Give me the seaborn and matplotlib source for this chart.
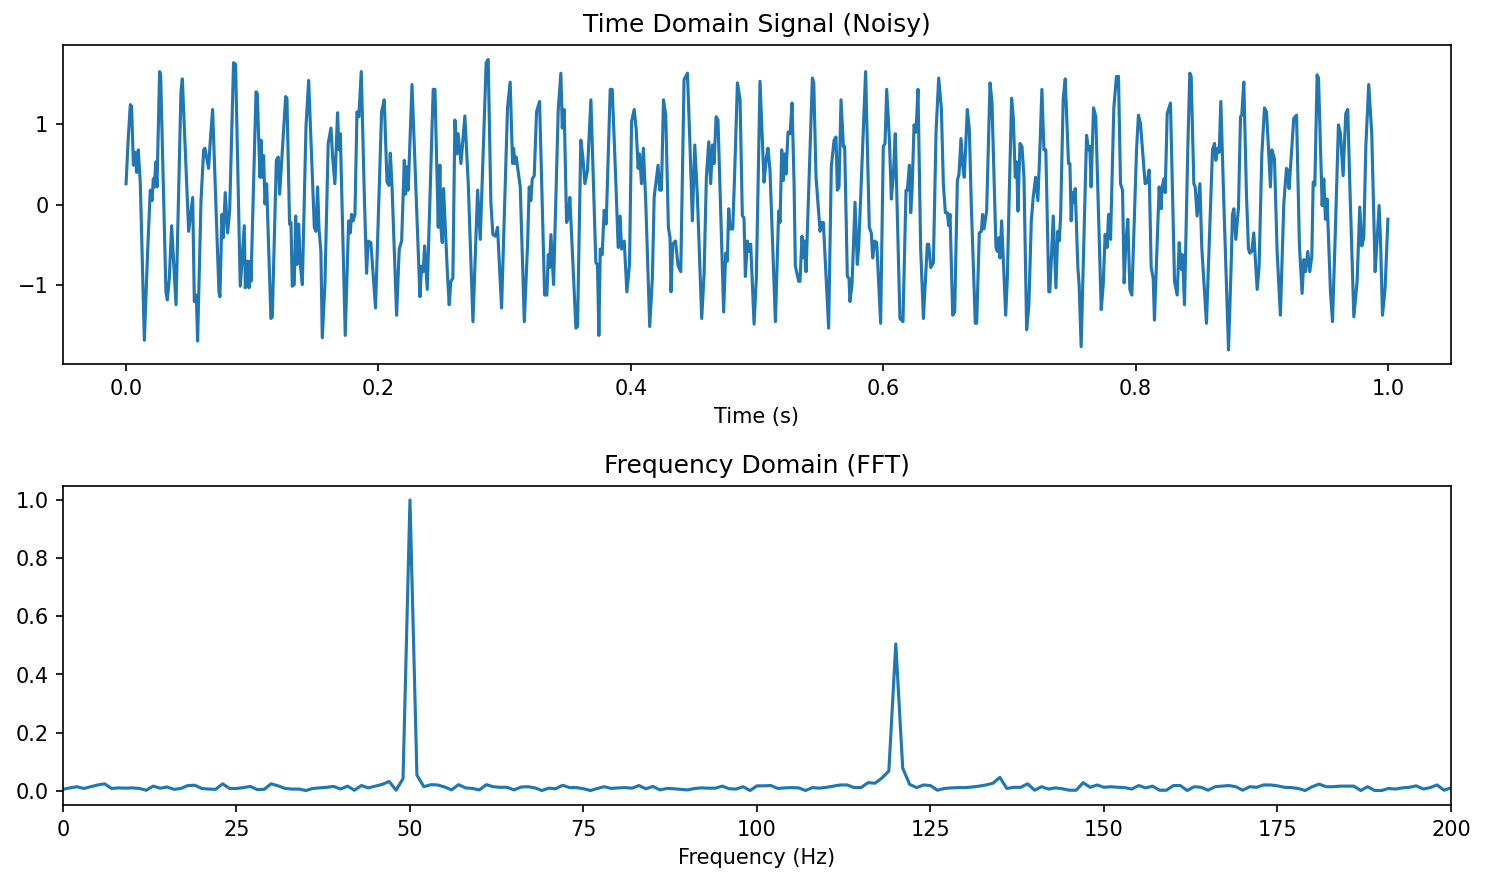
import numpy as np
import matplotlib
matplotlib.use("Agg")
import matplotlib.pyplot as plt
import pandas as pd
import seaborn as sns

# time domain signal, vertices (t in s, amplitude)
time_s = [
    0.0000, 0.0018, 0.0034, 0.0044, 0.0058, 0.0071, 0.0084, 0.0097, 0.0113, 0.0145,
    0.0171, 0.0192, 0.0206, 0.0216, 0.0224, 0.0235, 0.0245, 0.0266, 0.0274, 0.0316,
    0.0327, 0.0343, 0.0361, 0.0396, 0.0435, 0.0446, 0.0496, 0.0528, 0.0541, 0.0557,
    0.0567, 0.0594, 0.0615, 0.0625, 0.0654, 0.0668, 0.0686, 0.0736, 0.0744, 0.0760,
    0.0770, 0.0786, 0.0805, 0.0821, 0.0852, 0.0868, 0.0905, 0.0937, 0.0945, 0.0963,
    0.0974, 0.0984,
    0.0990, 0.1030, 0.1040, 0.1061, 0.1069, 0.1080, 0.1090, 0.1101, 0.1114, 0.1148,
    0.1159, 0.1191, 0.1206, 0.1217, 0.1265, 0.1275, 0.1296, 0.1307, 0.1317, 0.1333,
    0.1344, 0.1354, 0.1368, 0.1381, 0.1397, 0.1426, 0.1447, 0.1492, 0.1505, 0.1518,
    0.1529, 0.1544, 0.1555, 0.1576, 0.1602, 0.1624, 0.1637, 0.1655, 0.1676, 0.1687,
    0.1698, 0.1737, 0.1764, 0.1777, 0.1787, 0.1800, 0.1814, 0.1830, 0.1845, 0.1864,
    0.1888, 0.1906, 0.1919, 0.1940, 0.1977, 0.2025,
    0.2046, 0.2068, 0.2083, 0.2094, 0.2107, 0.2144, 0.2165, 0.2184, 0.2205, 0.2215,
    0.2226, 0.2236, 0.2266, 0.2329, 0.2342, 0.2355, 0.2366, 0.2387, 0.2434, 0.2448,
    0.2474, 0.2487, 0.2495, 0.2506, 0.2516, 0.2548, 0.2561, 0.2574, 0.2590, 0.2606,
    0.2622, 0.2632, 0.2654, 0.2669, 0.2685, 0.2712, 0.2749, 0.2786, 0.2807, 0.2854,
    0.2870, 0.2891, 0.2907, 0.2928, 0.2944, 0.2976, 0.3023, 0.3044,
    0.3063, 0.3071, 0.3082, 0.3092, 0.3124, 0.3156, 0.3182, 0.3195, 0.3208, 0.3219,
    0.3235, 0.3253, 0.3277, 0.3317, 0.3335, 0.3346, 0.3356, 0.3367, 0.3388, 0.3425,
    0.3446, 0.3457, 0.3472, 0.3491, 0.3504, 0.3517, 0.3565, 0.3578, 0.3604, 0.3620,
    0.3636, 0.3657, 0.3684, 0.3723, 0.3736, 0.3747, 0.3758, 0.3773, 0.3789, 0.3805,
    0.3837, 0.3853, 0.3882, 0.3900, 0.3916, 0.3926, 0.3948, 0.3969, 0.3990, 0.4006,
    0.4027, 0.4043, 0.4058, 0.4069, 0.4085,
    0.4100, 0.4119, 0.4150, 0.4171, 0.4185, 0.4216, 0.4229, 0.4243, 0.4259, 0.4277,
    0.4298, 0.4311, 0.4319, 0.4332, 0.4354, 0.4375, 0.4396, 0.4422, 0.4449, 0.4470,
    0.4488, 0.4507, 0.4528, 0.4562, 0.4581, 0.4599, 0.4618, 0.4633, 0.4647, 0.4660,
    0.4676, 0.4691, 0.4736, 0.4752, 0.4765, 0.4776, 0.4787, 0.4808, 0.4823, 0.4845,
    0.4866, 0.4884, 0.4897, 0.4908, 0.4924, 0.4940, 0.4950, 0.4977, 0.4995, 0.5024,
    0.5056, 0.5072, 0.5087, 0.5103,
    0.5146, 0.5172, 0.5183, 0.5196, 0.5207, 0.5220, 0.5230, 0.5246, 0.5262, 0.5278,
    0.5294, 0.5304, 0.5331, 0.5341, 0.5357, 0.5368, 0.5378, 0.5389, 0.5439, 0.5450,
    0.5468, 0.5500, 0.5510, 0.5526, 0.5568, 0.5589, 0.5611, 0.5626, 0.5637, 0.5650,
    0.5666, 0.5685, 0.5695, 0.5716, 0.5729, 0.5737, 0.5753, 0.5777, 0.5795, 0.5806,
    0.5861, 0.5890, 0.5906, 0.5917, 0.5933, 0.5949, 0.5980, 0.6001, 0.6015, 0.6028,
    0.6049, 0.6065, 0.6081, 0.6096, 0.6133,
    0.6157, 0.6181, 0.6192, 0.6208, 0.6218, 0.6229, 0.6245, 0.6260, 0.6276, 0.6297,
    0.6319, 0.6350, 0.6361, 0.6377, 0.6398, 0.6419, 0.6440, 0.6461, 0.6477, 0.6493,
    0.6509, 0.6519, 0.6530, 0.6551, 0.6567, 0.6588, 0.6601, 0.6617, 0.6630, 0.6643,
    0.6667, 0.6683, 0.6699, 0.6730, 0.6741, 0.6762, 0.6778, 0.6788, 0.6799, 0.6820,
    0.6847, 0.6862, 0.6878, 0.6894, 0.6905, 0.6915, 0.6926, 0.6939, 0.6971, 0.6984,
    0.7000, 0.7018, 0.7031, 0.7047, 0.7058, 0.7068, 0.7084, 0.7100, 0.7116, 0.7137,
    0.7155, 0.7174,
    0.7189, 0.7208, 0.7226, 0.7242, 0.7258, 0.7274, 0.7289, 0.7313, 0.7321, 0.7348,
    0.7369, 0.7384, 0.7395, 0.7406, 0.7427, 0.7443, 0.7469, 0.7480, 0.7490, 0.7501,
    0.7514, 0.7522, 0.7543, 0.7553, 0.7569, 0.7612, 0.7627, 0.7638, 0.7648, 0.7667,
    0.7685, 0.7728, 0.7744, 0.7759, 0.7775, 0.7786, 0.7802, 0.7828, 0.7849, 0.7865,
    0.7881, 0.7897, 0.7910, 0.7923, 0.7939, 0.7955, 0.7971, 0.8008, 0.8023, 0.8039,
    0.8076, 0.8092, 0.8108, 0.8124, 0.8140, 0.8150, 0.8187, 0.8203,
    0.8209, 0.8224, 0.8235, 0.8251, 0.8277, 0.8309, 0.8330, 0.8346, 0.8362, 0.8372,
    0.8388, 0.8414, 0.8430, 0.8441, 0.8462, 0.8473, 0.8488, 0.8510, 0.8525, 0.8562,
    0.8589, 0.8610, 0.8626, 0.8636, 0.8652, 0.8663, 0.8676, 0.8700, 0.8737, 0.8758,
    0.8768, 0.8779, 0.8795, 0.8816, 0.8832, 0.8842, 0.8858, 0.8879, 0.8895, 0.8906,
    0.8921, 0.8937, 0.8964, 0.8979, 0.9001, 0.9022, 0.9038, 0.9053, 0.9069, 0.9080,
    0.9101, 0.9122, 0.9148, 0.9175, 0.9196, 0.9206, 0.9217,
    0.9254, 0.9276, 0.9299, 0.9320, 0.9334, 0.9347, 0.9365, 0.9381, 0.9397, 0.9408,
    0.9421, 0.9439, 0.9450, 0.9479, 0.9492, 0.9505, 0.9518, 0.9545, 0.9561, 0.9582,
    0.9608, 0.9624, 0.9645, 0.9666, 0.9682, 0.9698, 0.9730, 0.9756, 0.9777, 0.9793,
    0.9809, 0.9825, 0.9848, 0.9872, 0.9883, 0.9899, 0.9914, 0.9930, 0.9941, 0.9957,
    0.9978, 1.0000,
]

amplitude = [
    0.26, 0.84, 1.24, 1.22, 0.49, 0.65, 0.40, 0.68, 0.26, -1.68,
    -0.58, 0.18, 0.05, 0.32, 0.22, 0.53, 0.22, 1.65, 1.61, -1.08,
    -1.18, -0.91, -0.26, -1.24, 1.40, 1.56, -0.33, 0.09, -1.20, -1.12,
    -1.69, 0.05, 0.68, 0.70, 0.45, 0.80, 1.18, -1.08, -1.14, -0.12,
    -0.41, 0.15, -0.35, -0.08, 1.76, 1.74, -1.01, -0.26, -1.03, -0.70,
    -1.03, -0.70,
    -0.95, 1.40, 1.38, 0.34, 0.80, 0.34, 0.61, 0.01, 0.26, -1.41,
    -1.39, 0.55, 0.59, 0.13, 1.34, 1.32, -0.24, -0.22, -1.01, -0.99,
    -0.14, -0.74, -0.24, -0.74, -0.99, 0.97, 1.54, -0.28, -0.33, 0.22,
    -0.30, -0.58, -1.65, -0.99, 0.76, 0.95, 0.59, 0.26, 1.14, 0.68,
    0.88, -1.62, -0.20, -0.35, -0.12, -0.20, -0.12, 1.15, 1.09, 1.65,
    0.13, -0.85, -0.45, -0.47, -1.28, 1.15,
    1.30, 0.28, 0.24, 0.64, 0.26, -1.37, -0.55, -0.45, 0.55, 0.13,
    0.47, 0.18, 1.49, -1.14, -0.76, -0.83, -0.51, -1.05, 1.43, 1.43,
    -0.28, 0.49, -0.28, -0.47, 0.20, -0.89, -1.24, -0.95, -0.91, 1.05,
    0.63, 0.88, 0.51, 0.80, 1.10, 0.26, -1.45, 0.18, -0.43, 1.76,
    1.80, 0.03, -0.37, -0.39, -0.28, -1.28, 1.20, 1.52,
    0.51, 0.70, 0.51, 0.59, 0.22, -1.45, -0.49, 0.22, 0.05, 0.32,
    0.36, 1.15, 1.28, -1.12, -1.12, -0.62, -0.78, -0.37, -0.99, 1.18,
    1.63, 0.95, 1.18, -0.22, -0.16, 0.09, -1.53, -1.51, 0.80, 0.59,
    0.26, 0.43, 1.30, -0.72, -0.74, -1.62, -0.55, -0.62, -0.07, -0.24,
    1.43, 1.43, 0.26, -0.53, -0.14, -0.55, -0.45, -1.08, -0.74, 1.03,
    1.18, 0.93, 0.45, 0.63, 0.26,
    0.70, 0.01, -1.51, -0.91, 0.09, 0.49, 0.18, 0.18, 1.30, 1.11,
    -0.28, -0.41, -1.08, -0.49, -0.45, -0.76, -0.83, 1.55, 1.63, 0.70,
    -0.20, 0.74, 0.09, -1.41, -0.85, 0.34, 0.78, 0.26, 0.74, 0.51,
    1.09, 1.05, -1.33, -0.60, -0.70, -0.05, -0.30, -0.30, 0.38, 1.51,
    1.30, -0.14, -0.16, -0.89, -0.45, -0.58, -0.49, -1.48, -0.91, 1.53,
    0.28, 0.55, 0.70, 0.43,
    -1.45, -0.08, -0.22, 0.68, 0.30, 0.63, 0.38, 0.90, 0.88, 1.26,
    0.26, -0.76, -0.95, -0.95, -0.39, -0.66, -0.45, -0.83, 1.57, 1.51,
    0.34, -0.33, -0.22, -0.22, -1.53, 0.47, 0.80, 0.84, 0.18, 0.22,
    1.30, 0.72, 0.72, -0.89, -0.91, -1.20, -0.99, 0.03, -0.74, -0.53,
    1.65, -0.28, -0.35, -0.66, -0.45, -0.47, -1.47, 0.72, 0.76, 1.43,
    0.82, 0.07, 0.38, 0.88, -1.41,
    -1.45, 0.18, 0.18, 0.49, -0.10, 0.18, 0.99, 0.90, 1.43, -0.53,
    -1.41, -0.49, -0.49, -0.78, -0.72, 0.90, 1.57, 1.20, 0.26, -0.10,
    -0.10, -0.26, -0.12, -1.37, -1.33, 0.30, 0.38, 0.82, 0.49, 0.34,
    1.18, 0.93, -0.03, -1.47, -1.47, -0.35, -0.33, -0.12, -0.30, -0.08,
    1.51, 1.28, 0.38, -0.53, -0.58, -0.41, -0.66, -0.20, -1.37, -0.91,
    0.18, 1.32, 1.09, 0.34, 0.53, -0.08, 0.76, 0.72, 0.34, -1.55,
    -1.24, -0.20,
    0.09, 0.34, 0.05, 0.68, 1.43, 0.68, 0.68, -1.08, -1.08, -0.14,
    -1.03, -0.33, -0.45, -0.16, 1.32, 1.56, 0.51, 0.51, -0.20, 0.15,
    0.03, 0.20, -0.78, -0.99, -1.76, 0.86, 0.68, 0.72, 0.22, 1.20,
    1.09, -1.30, -0.99, -0.37, -0.53, -0.12, -0.43, 1.20, 1.59, 1.59,
    0.26, 0.18, -0.97, -0.47, -0.18, -1.05, -1.12, 0.68, 1.11, 1.01,
    0.26, 0.28, 0.43, -0.78, -0.91, -1.43, 0.22, -0.05,
    0.20, 0.32, 0.15, 1.13, 1.26, -0.95, -1.12, -0.47, -0.80, -0.62,
    -1.24, 0.68, 1.63, 1.59, 0.26, 0.22, -0.14, 0.26, -0.53, -1.47,
    -0.24, 0.68, 0.76, 0.55, 0.70, 0.65, 1.28, 0.01, -1.80, -0.74,
    -0.12, -0.05, -0.43, -0.03, 1.09, 1.11, 1.52, 0.13, -0.55, -0.60,
    -0.58, -0.35, -1.05, -0.78, 0.63, 1.20, 1.15, 0.72, 0.22, 0.68,
    0.57, -0.58, -1.37, 0.01, 0.45, 0.43, 0.20,
    1.07, 1.11, -0.51, -1.10, -0.68, -0.83, -0.58, -0.83, -0.64, 0.28,
    0.24, 1.61, 1.57, -0.01, 0.32, -0.18, 0.07, -1.08, -1.45, -0.41,
    0.99, 0.88, 0.36, 1.13, 1.18, 0.26, -1.39, -0.95, -0.03, -0.51,
    -0.41, 0.72, 1.49, 0.88, 0.18, -0.83, -0.45, -0.01, -0.41, -1.37,
    -1.03, -0.18,
]

# normalised FFT magnitude, one value per 1 Hz bin (0..200 Hz)
freq_hz = list(range(201))
magnitude = [
    0.005, 0.010, 0.014, 0.008, 0.014, 0.020, 0.024, 0.008, 0.010, 0.009,
    0.010, 0.008, 0.002, 0.016, 0.009, 0.013, 0.005, 0.008, 0.018, 0.019,
    0.008, 0.006, 0.005, 0.024, 0.008, 0.008, 0.011, 0.015, 0.004, 0.005,
    0.024, 0.017, 0.008, 0.006, 0.006, 0.001, 0.008, 0.010, 0.012, 0.015,
    0.006, 0.016, 0.002, 0.018, 0.010, 0.016, 0.022, 0.032, 0.002, 0.042,
    1.000, 0.054, 0.014, 0.021, 0.020, 0.013, 0.003, 0.021, 0.010, 0.008,
    0.003, 0.021, 0.014, 0.012, 0.012, 0.003, 0.013, 0.014, 0.010, 0.001,
    0.009, 0.007, 0.019, 0.011, 0.011, 0.007, 0.001, 0.008, 0.014, 0.008,
    0.010, 0.011, 0.009, 0.018, 0.007, 0.015, 0.003, 0.008, 0.007, 0.005,
    0.003, 0.008, 0.010, 0.009, 0.009, 0.016, 0.007, 0.006, 0.014, 0.001,
    0.017, 0.017, 0.018, 0.008, 0.010, 0.011, 0.010, 0.001, 0.011, 0.009,
    0.012, 0.016, 0.020, 0.020, 0.011, 0.011, 0.028, 0.026, 0.044, 0.068,
    0.505, 0.078, 0.022, 0.011, 0.020, 0.018, 0.002, 0.008, 0.010, 0.011,
    0.011, 0.013, 0.016, 0.020, 0.026, 0.046, 0.008, 0.012, 0.012, 0.024,
    0.002, 0.014, 0.006, 0.010, 0.007, 0.002, 0.002, 0.028, 0.012, 0.020,
    0.012, 0.014, 0.012, 0.011, 0.006, 0.018, 0.010, 0.016, 0.002, 0.002,
    0.018, 0.018, 0.001, 0.014, 0.012, 0.002, 0.014, 0.016, 0.018, 0.014,
    0.002, 0.014, 0.012, 0.020, 0.020, 0.017, 0.012, 0.011, 0.008, 0.001,
    0.014, 0.023, 0.014, 0.014, 0.016, 0.016, 0.016, 0.001, 0.014, 0.001,
    0.001, 0.008, 0.006, 0.010, 0.012, 0.017, 0.006, 0.011, 0.020, 0.002,
    0.010,
]

time_df = pd.DataFrame({"t": time_s, "y": amplitude})
freq_df = pd.DataFrame({"f": freq_hz, "mag": magnitude})

fig, (ax1, ax2) = plt.subplots(2, 1, figsize=(9.9, 5.8667), dpi=150)

sns.lineplot(data=time_df, x="t", y="y", ax=ax1, estimator=None, sort=False,
             color="#1f77b4", linewidth=1.5)
ax1.set_title("Time Domain Signal (Noisy)")
ax1.set_xlabel("Time (s)")
ax1.set_ylabel("")

sns.lineplot(data=freq_df, x="f", y="mag", ax=ax2, estimator=None, sort=False,
             color="#1f77b4", linewidth=1.5)
ax2.set_title("Frequency Domain (FFT)")
ax2.set_xlabel("Frequency (Hz)")
ax2.set_ylabel("")
ax2.set_xlim(0, 200)

fig.subplots_adjust(left=0.0424, right=0.9771, top=0.9489, bottom=0.0852,
                    hspace=0.379)
plt.savefig("out.png", dpi=150)
